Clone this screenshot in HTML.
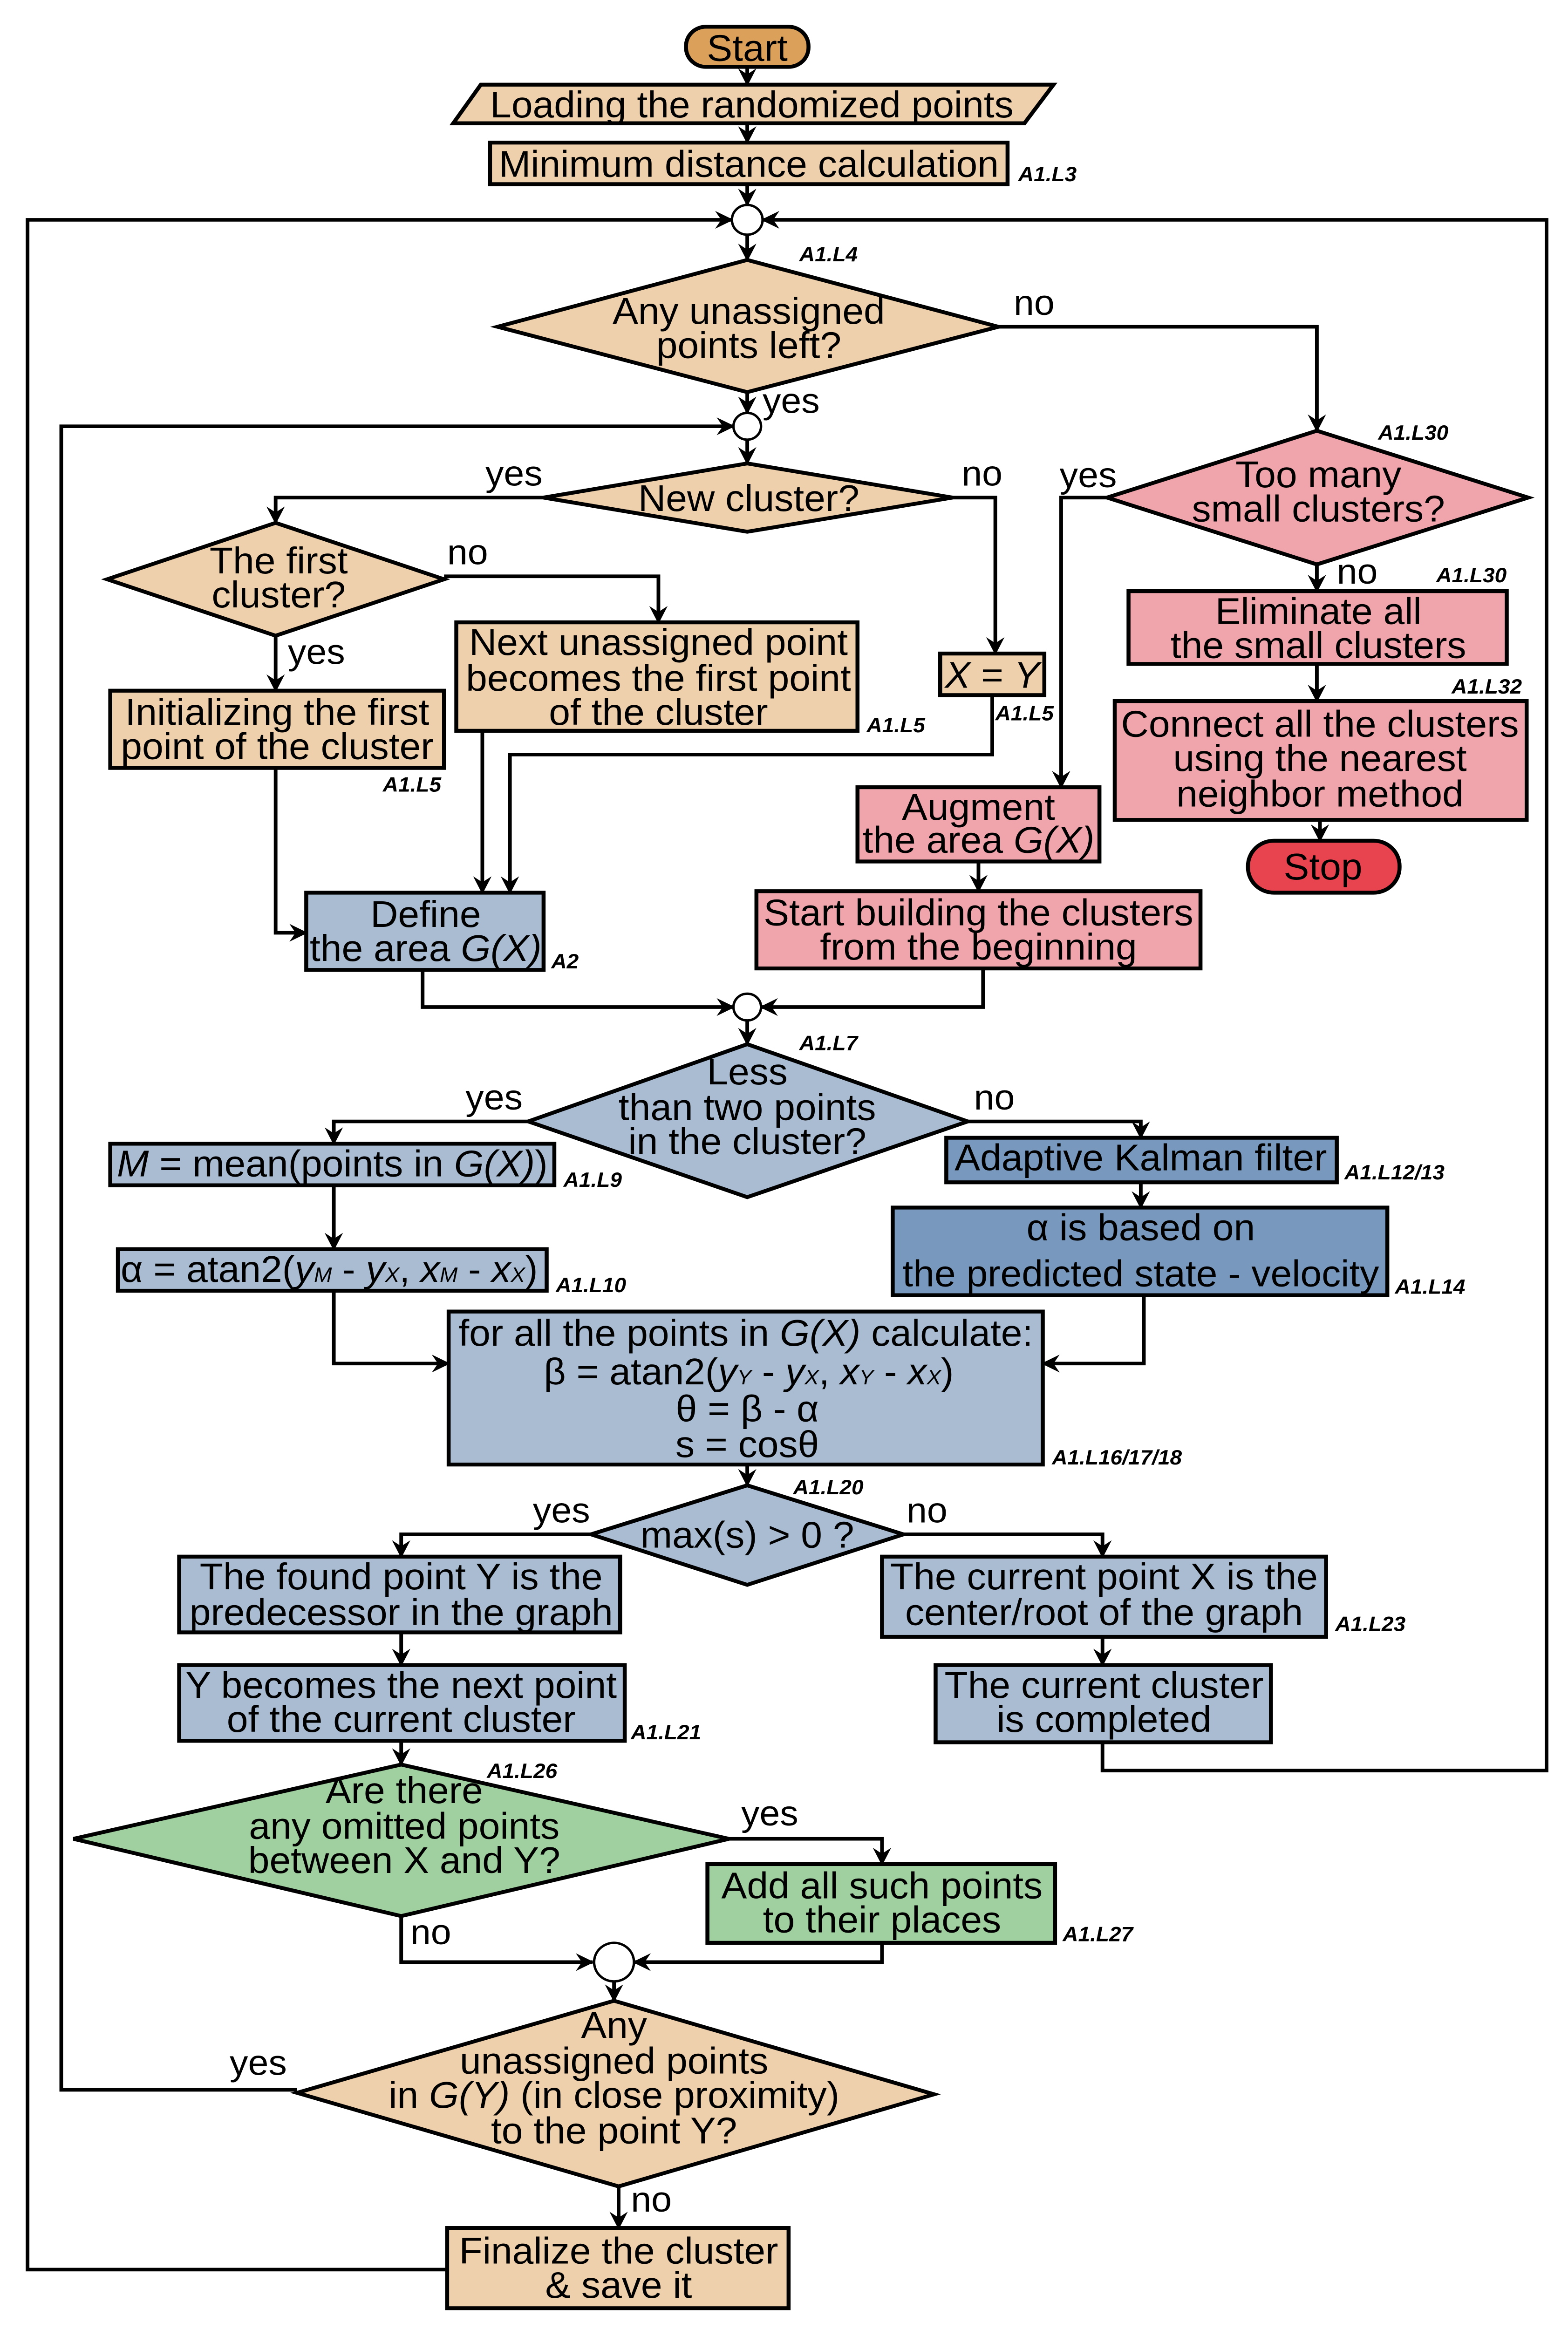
<!DOCTYPE html>
<html><head><meta charset="utf-8">
<style>
html,body{margin:0;padding:0;background:#fff;width:100%;height:100%;overflow:hidden;}
svg{display:block;position:fixed;left:0;top:0;width:100vw;height:100vh;}
.t{font-family:"Liberation Sans",sans-serif;font-size:25px;fill:#000;text-anchor:middle;}
.s{font-family:"Liberation Sans",sans-serif;font-size:24px;fill:#000;}
.l{font-family:"Liberation Sans",sans-serif;font-size:14px;font-weight:bold;font-style:italic;fill:#000;}
.b{stroke:#000;stroke-width:2.6;}
.c{fill:none;stroke:#000;stroke-width:2.4;}
.i{font-style:italic;}
</style></head><body>
<svg viewBox="0 0 1024 1568" preserveAspectRatio="none" xmlns="http://www.w3.org/2000/svg">
<defs>
<marker id="a" markerUnits="userSpaceOnUse" markerWidth="12" markerHeight="12" refX="11" refY="6" orient="auto">
<path d="M0,0 L12,6 L0,12 L4,6 z" fill="#000"/>
</marker>
</defs>

<g class="c">
<line x1="488" y1="45" x2="488" y2="57" marker-end="url(#a)"/>
<line x1="488" y1="83" x2="488" y2="96" marker-end="url(#a)"/>
<line x1="488" y1="124" x2="488" y2="138" marker-end="url(#a)"/>
<polyline points="292,1528 18,1528 18,148 478,148" marker-end="url(#a)"/>
<polyline points="720,1173 720,1192 1010,1192 1010,148 498,148" marker-end="url(#a)"/>
<line x1="488" y1="158" x2="488" y2="175" marker-end="url(#a)"/>
<polyline points="652,220 860,220 860,290" marker-end="url(#a)"/>
<line x1="488" y1="264" x2="488" y2="278" marker-end="url(#a)"/>
<polyline points="194,1407 40,1407 40,287 479,287" marker-end="url(#a)"/>
<line x1="488" y1="296" x2="488" y2="312" marker-end="url(#a)"/>
<polyline points="355,335 180,335 180,352" marker-end="url(#a)"/>
<polyline points="622,335 650,335 650,440" marker-end="url(#a)"/>
<polyline points="290,388 430,388 430,419" marker-end="url(#a)"/>
<line x1="180" y1="428" x2="180" y2="465" marker-end="url(#a)"/>
<polyline points="648,468 648,508 333,508 333,601" marker-end="url(#a)"/>
<line x1="315" y1="492" x2="315" y2="601" marker-end="url(#a)"/>
<polyline points="180,517 180,628 200,628" marker-end="url(#a)"/>
<polyline points="276,653 276,678 479,678" marker-end="url(#a)"/>
<polyline points="642,652 642,678 497,678" marker-end="url(#a)"/>
<polyline points="723,335 693,335 693,530" marker-end="url(#a)"/>
<line x1="860" y1="380" x2="860" y2="398" marker-end="url(#a)"/>
<line x1="860" y1="447" x2="860" y2="472" marker-end="url(#a)"/>
<line x1="862" y1="552" x2="862" y2="566" marker-end="url(#a)"/>
<line x1="639" y1="580" x2="639" y2="600" marker-end="url(#a)"/>
<line x1="488" y1="687" x2="488" y2="703" marker-end="url(#a)"/>
<polyline points="345,755 218,755 218,770" marker-end="url(#a)"/>
<polyline points="632,755 745,755 745,766" marker-end="url(#a)"/>
<line x1="218" y1="798" x2="218" y2="841" marker-end="url(#a)"/>
<line x1="745" y1="796" x2="745" y2="813" marker-end="url(#a)"/>
<polyline points="218,869 218,918 293,918" marker-end="url(#a)"/>
<polyline points="747,872 747,918 681,918" marker-end="url(#a)"/>
<line x1="488" y1="986" x2="488" y2="1000" marker-end="url(#a)"/>
<polyline points="386,1033 262,1033 262,1048" marker-end="url(#a)"/>
<polyline points="590,1033 720,1033 720,1048" marker-end="url(#a)"/>
<line x1="262" y1="1099" x2="262" y2="1121" marker-end="url(#a)"/>
<line x1="720" y1="1102" x2="720" y2="1121" marker-end="url(#a)"/>
<line x1="262" y1="1172" x2="262" y2="1188" marker-end="url(#a)"/>
<polyline points="476,1238 576,1238 576,1255" marker-end="url(#a)"/>
<polyline points="262,1290 262,1321 387,1321" marker-end="url(#a)"/>
<polyline points="576,1308 576,1321 414,1321" marker-end="url(#a)"/>
<line x1="401" y1="1334" x2="401" y2="1347" marker-end="url(#a)"/>
<line x1="404" y1="1472" x2="404" y2="1500" marker-end="url(#a)"/>
</g>

<g fill="#fff" stroke="#000" stroke-width="1.6">
<ellipse cx="488" cy="148" rx="10" ry="10"/>
<ellipse cx="488" cy="287" rx="9" ry="9"/>
<ellipse cx="488" cy="678" rx="9" ry="9"/>
<ellipse cx="401" cy="1321" rx="13" ry="13"/>
</g>

<g class="b">
<rect x="448" y="18" width="80" height="27" rx="13" fill="#DBA05A"/>
<polygon points="296,83 314,57 688,57 669,83" fill="#EFD0AC"/>
<rect x="320" y="96" width="338" height="28" fill="#EFD0AC"/>
<polygon points="325,220 488,175 652,220 488,264" fill="#EFD0AC"/>
<polygon points="355,335 488,312 622,335 488,358" fill="#EFD0AC"/>
<polygon points="70,390 180,352 290,390 180,428" fill="#EFD0AC"/>
<rect x="72" y="465" width="218" height="52" fill="#EFD0AC"/>
<rect x="298" y="419" width="262" height="73" fill="#EFD0AC"/>
<rect x="614" y="440" width="68" height="28" fill="#EFD0AC"/>
<rect x="200" y="601" width="155" height="52" fill="#A9BCD2"/>
<polygon points="723,335 860,290 998,335 860,380" fill="#F0A5AC"/>
<rect x="737" y="398" width="247" height="49" fill="#F0A5AC"/>
<rect x="728" y="472" width="269" height="80" fill="#F0A5AC"/>
<rect x="815" y="566" width="99" height="35" rx="17" fill="#E84450"/>
<rect x="560" y="530" width="158" height="50" fill="#F0A5AC"/>
<rect x="494" y="600" width="290" height="52" fill="#F0A5AC"/>
<polygon points="345,755 488,703 632,755 488,806" fill="#A9BCD2"/>
<rect x="72" y="770" width="290" height="28" fill="#A9BCD2"/>
<rect x="77" y="841" width="280" height="28" fill="#A9BCD2"/>
<rect x="618" y="766" width="255" height="30" fill="#7898BE"/>
<rect x="583" y="813" width="323" height="59" fill="#7898BE"/>
<rect x="293" y="883" width="388" height="103" fill="#A9BCD2"/>
<polygon points="386,1033 488,1000 590,1033 488,1067" fill="#A9BCD2"/>
<rect x="117" y="1048" width="288" height="51" fill="#A9BCD2"/>
<rect x="117" y="1121" width="291" height="51" fill="#A9BCD2"/>
<rect x="576" y="1048" width="290" height="54" fill="#A9BCD2"/>
<rect x="611" y="1121" width="219" height="52" fill="#A9BCD2"/>
<polygon points="48,1238 262,1188 476,1238 262,1290" fill="#A0D0A0"/>
<rect x="462" y="1255" width="227" height="53" fill="#A0D0A0"/>
<polygon points="194,1409 401,1347 610,1410 404,1472" fill="#EFD0AC"/>
<rect x="292" y="1500" width="223" height="54" fill="#EFD0AC"/>
</g>

<g>
<text class="t" x="488" y="41">Start</text>
<text class="t" x="491" y="79">Loading the randomized points</text>
<text class="t" x="489" y="119">Minimum distance calculation</text>
<text class="t" x="489" y="218">Any unassigned</text>
<text class="t" x="489" y="241">points left?</text>
<text class="t" x="489" y="344">New cluster?</text>
<text class="t" x="182" y="386">The first</text>
<text class="t" x="182" y="409">cluster?</text>
<text class="t" x="181" y="488">Initializing the first</text>
<text class="t" x="181" y="511">point of the cluster</text>
<text class="t" x="430" y="441">Next unassigned point</text>
<text class="t" x="430" y="465">becomes the first point</text>
<text class="t" x="430" y="488">of the cluster</text>
<text class="t" x="648" y="463"><tspan class="i">X</tspan> = <tspan class="i">Y</tspan></text>
<text class="t" x="278" y="624">Define</text>
<text class="t" x="278" y="647">the area <tspan class="i">G(X)</tspan></text>
<text class="t" x="861" y="328">Too many</text>
<text class="t" x="861" y="351">small clusters?</text>
<text class="t" x="861" y="420">Eliminate all</text>
<text class="t" x="861" y="443">the small clusters</text>
<text class="t" x="862" y="496">Connect all the clusters</text>
<text class="t" x="862" y="519">using the nearest</text>
<text class="t" x="862" y="543">neighbor method</text>
<text class="t" x="864" y="592">Stop</text>
<text class="t" x="639" y="552">Augment</text>
<text class="t" x="639" y="574">the area <tspan class="i">G(X)</tspan></text>
<text class="t" x="639" y="623">Start building the clusters</text>
<text class="t" x="639" y="646">from the beginning</text>
<text class="t" x="488" y="730">Less</text>
<text class="t" x="488" y="754">than two points</text>
<text class="t" x="488" y="777">in the cluster?</text>
<text class="t" x="217" y="792"><tspan class="i">M</tspan> = mean(points in <tspan class="i">G(X)</tspan>)</text>
<text class="t" x="215" y="863">α = atan2(<tspan class="i">y</tspan><tspan font-size="14" class="i">M</tspan> - <tspan class="i">y</tspan><tspan font-size="14" class="i">X</tspan>, <tspan class="i">x</tspan><tspan font-size="14" class="i">M</tspan> - <tspan class="i">x</tspan><tspan font-size="14" class="i">X</tspan>)</text>
<text class="t" x="745" y="788">Adaptive Kalman filter</text>
<text class="t" x="745" y="835">α is based on</text>
<text class="t" x="745" y="866">the predicted state - velocity</text>
<text class="t" x="487" y="906">for all the points in <tspan class="i">G(X)</tspan> calculate:</text>
<text class="t" x="489" y="932">β = atan2(<tspan class="i">y</tspan><tspan font-size="14" class="i">Y</tspan> - <tspan class="i">y</tspan><tspan font-size="14" class="i">X</tspan>, <tspan class="i">x</tspan><tspan font-size="14" class="i">Y</tspan> - <tspan class="i">x</tspan><tspan font-size="14" class="i">X</tspan>)</text>
<text class="t" x="488" y="957">θ = β - α</text>
<text class="t" x="488" y="981">s = cosθ</text>
<text class="t" x="488" y="1042">max(s) &gt; 0 ?</text>
<text class="t" x="262" y="1070">The found point Y is the</text>
<text class="t" x="262" y="1094">predecessor in the graph</text>
<text class="t" x="262" y="1143">Y becomes the next point</text>
<text class="t" x="262" y="1166">of the current cluster</text>
<text class="t" x="721" y="1070">The current point X is the</text>
<text class="t" x="721" y="1094">center/root of the graph</text>
<text class="t" x="721" y="1143">The current cluster</text>
<text class="t" x="721" y="1166">is completed</text>
<text class="t" x="264" y="1214">Are there</text>
<text class="t" x="264" y="1238">any omitted points</text>
<text class="t" x="264" y="1261">between X and Y?</text>
<text class="t" x="576" y="1278">Add all such points</text>
<text class="t" x="576" y="1301">to their places</text>
<text class="t" x="401" y="1372">Any</text>
<text class="t" x="401" y="1396">unassigned points</text>
<text class="t" x="401" y="1419">in <tspan class="i">G(Y)</tspan> (in close proximity)</text>
<text class="t" x="401" y="1443">to the point Y?</text>
<text class="t" x="404" y="1524">Finalize the cluster</text>
<text class="t" x="404" y="1547">&amp; save it</text>

<text class="s" x="662" y="212">no</text>
<text class="s" x="498" y="278">yes</text>
<text class="s" x="317" y="327">yes</text>
<text class="s" x="628" y="327">no</text>
<text class="s" x="292" y="380">no</text>
<text class="s" x="188" y="447">yes</text>
<text class="s" x="692" y="328">yes</text>
<text class="s" x="873" y="393">no</text>
<text class="s" x="304" y="747">yes</text>
<text class="s" x="636" y="747">no</text>
<text class="s" x="348" y="1025">yes</text>
<text class="s" x="592" y="1025">no</text>
<text class="s" x="484" y="1229">yes</text>
<text class="s" x="268" y="1309">no</text>
<text class="s" x="150" y="1397">yes</text>
<text class="s" x="412" y="1489">no</text>

<text class="l" x="665" y="122">A1.L3</text>
<text class="l" x="522" y="176">A1.L4</text>
<text class="l" x="900" y="296">A1.L30</text>
<text class="l" x="938" y="392">A1.L30</text>
<text class="l" x="948" y="467">A1.L32</text>
<text class="l" x="250" y="533">A1.L5</text>
<text class="l" x="566" y="493">A1.L5</text>
<text class="l" x="650" y="485">A1.L5</text>
<text class="l" x="360" y="652">A2</text>
<text class="l" x="522" y="707">A1.L7</text>
<text class="l" x="368" y="799">A1.L9</text>
<text class="l" x="363" y="870">A1.L10</text>
<text class="l" x="878" y="794">A1.L12/13</text>
<text class="l" x="911" y="871">A1.L14</text>
<text class="l" x="687" y="986">A1.L16/17/18</text>
<text class="l" x="518" y="1006">A1.L20</text>
<text class="l" x="412" y="1171">A1.L21</text>
<text class="l" x="872" y="1098">A1.L23</text>
<text class="l" x="318" y="1197">A1.L26</text>
<text class="l" x="694" y="1307">A1.L27</text>
</g>
</svg>
</body></html>
